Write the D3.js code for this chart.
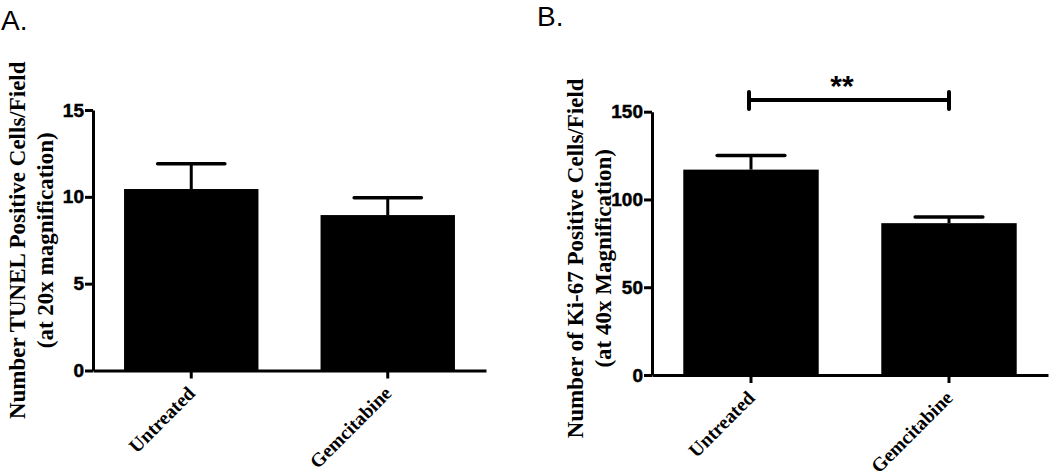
<!DOCTYPE html>
<html>
<head>
<meta charset="utf-8">
<script src="https://cdn.jsdelivr.net/npm/d3@7/dist/d3.min.js"></script>
<style>
  html, body { margin: 0; padding: 0; background: #fff; }
  svg { display: block; }
  .ser { font-family: "Liberation Serif", "Times New Roman", serif; font-weight: 700; fill: #000; }
</style>
</head>
<body>
<svg id="chart" width="1050" height="476"></svg>
<script>
// ---- data ----
const categories = ["Untreated", "Gemcitabine"];

const tunelMeans = [10.45, 8.95];
const tunelErrors = [1.45, 1.0];
const tunelTicks = [0, 5, 10, 15];
const tunelMax = 15;
const tunelLabel = ["Number TUNEL Positive Cells/Field", "(at 20x magnification)"];

const ki67Means = [117, 86.5];
const ki67Errors = [8, 3.5];
const ki67Ticks = [0, 50, 100, 150];
const ki67Max = 150;
const ki67Label = ["Number of Ki-67 Positive Cells/Field", "(at 40x Magnification)"];
const ki67Significance = "**";

const panelLetters = ["A.", "B."];

// ---- drawing ----
const svg = d3.select("#chart");

function drawPanel(opt) {
  const g = svg.append("g");
  const y = d3.scaleLinear().domain([0, opt.max]).range([opt.y0, opt.y1]);
  const x = d3.scaleBand().domain(categories).range([opt.x0, opt.x1])
    .paddingInner(0.316).paddingOuter(0.158);

  // bars
  g.selectAll("rect.bar").data(opt.means).join("rect")
    .attr("class", "bar")
    .attr("x", (d, i) => x(categories[i]))
    .attr("width", x.bandwidth())
    .attr("y", d => y(d))
    .attr("height", d => y(0) - y(d))
    .attr("fill", "#000");

  // error bars
  const capHalf = x.bandwidth() / 4;
  opt.means.forEach((m, i) => {
    const cx = x(categories[i]) + x.bandwidth() / 2;
    const top = y(m + opt.errors[i]);
    g.append("line").attr("x1", cx).attr("x2", cx)
      .attr("y1", y(m)).attr("y2", top)
      .attr("stroke", "#000").attr("stroke-width", 3);
    g.append("line").attr("x1", cx - capHalf).attr("x2", cx + capHalf)
      .attr("y1", top).attr("y2", top)
      .attr("stroke", "#000").attr("stroke-width", 3.5).attr("stroke-linecap", "round");
  });

  // y axis
  const ya = g.append("g").attr("transform", `translate(${opt.x0},0)`)
    .call(d3.axisLeft(y).tickValues(opt.ticks).tickSize(8).tickSizeOuter(0).tickPadding(1));
  ya.select(".domain").attr("stroke-width", 3);
  ya.selectAll(".tick line").attr("stroke-width", 3);
  ya.selectAll(".tick text")
    .style("font-family", "'Liberation Sans', Arial, sans-serif")
    .style("font-weight", "bold")
    .style("font-size", "19px")
    .style("fill", "#000")
    .style("stroke", "#000")
    .style("stroke-width", "0.5px");

  // x axis
  const xa = g.append("g").attr("transform", `translate(0,${opt.y0})`)
    .call(d3.axisBottom(x).tickSize(8).tickSizeOuter(0));
  xa.select(".domain").attr("stroke-width", 3);
  xa.selectAll(".tick line").attr("stroke-width", 3);
  xa.selectAll(".tick text").remove();
  xa.selectAll(".tick").append("text")
    .attr("class", "ser")
    .attr("transform", "translate(5,24) rotate(-45)")
    .attr("text-anchor", "end")
    .style("font-size", "19.5px")
    .text(d => d);

  // y label
  const midY = (opt.y0 + opt.y1) / 2 + opt.labelShift;
  opt.label.forEach((t, i) => {
    g.append("text")
      .attr("class", "ser")
      .attr("transform", `translate(${opt.labelX + i * 28},${midY}) rotate(-90)`)
      .attr("text-anchor", "middle")
      .style("font-size", "23px")
      .text(t);
  });

  // panel letter
  g.append("text").attr("x", opt.letterX).attr("y", opt.letterY)
    .style("font-family", "'Liberation Sans', Arial, sans-serif")
    .style("font-size", "28px").style("fill", "#000")
    .text(opt.letter);

  return { x, y, g };
}

drawPanel({
  means: tunelMeans, errors: tunelErrors, ticks: tunelTicks, max: tunelMax,
  label: tunelLabel, letter: panelLetters[0],
  x0: 93, x1: 486, y0: 370.5, y1: 110,
  labelX: 25, labelShift: 0, letterX: 1, letterY: 30
});

const pB = drawPanel({
  means: ki67Means, errors: ki67Errors, ticks: ki67Ticks, max: ki67Max,
  label: ki67Label, letter: panelLetters[1],
  x0: 652, x1: 1048, y0: 375, y1: 111.7,
  labelX: 583, labelShift: 15, letterX: 537, letterY: 26
});

// significance bracket
{
  const { x, g } = pB;
  const xa = x(categories[0]) + x.bandwidth() / 2 - 2;
  const xb = x(categories[1]) + x.bandwidth() / 2;
  const yb = 100;
  g.append("line").attr("x1", xa).attr("x2", xb).attr("y1", yb).attr("y2", yb)
    .attr("stroke", "#000").attr("stroke-width", 4);
  [xa, xb].forEach(xx => {
    g.append("line").attr("x1", xx).attr("x2", xx).attr("y1", yb - 8).attr("y2", yb + 9)
      .attr("stroke", "#000").attr("stroke-width", 4).attr("stroke-linecap", "round");
  });
  g.append("text").attr("x", (xa + xb) / 2 - 7).attr("y", 96)
    .attr("text-anchor", "middle")
    .style("font-family", "'Liberation Sans', Arial, sans-serif")
    .style("font-weight", "bold").style("font-size", "30px").style("fill", "#000")
    .text(ki67Significance);
}
</script>
</body>
</html>
